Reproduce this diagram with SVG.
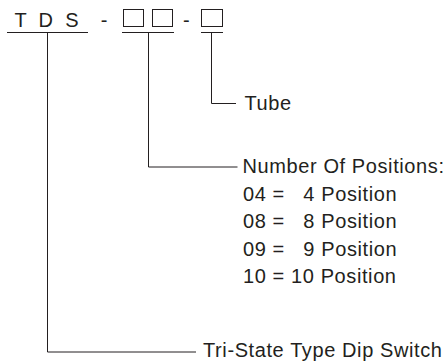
<svg xmlns="http://www.w3.org/2000/svg" width="446" height="363" viewBox="0 0 446 363">
<style>
text{font-family:"Liberation Sans",Arial,Helvetica,sans-serif;font-size:20px;fill:#231f20;letter-spacing:0.6px;white-space:pre}
.code{letter-spacing:3.3px}
.box{fill:none;stroke:#231f20;stroke-width:1}
.ul{stroke:#231f20;stroke-width:1}
.conn{fill:none;stroke:#231f20;stroke-width:1}
</style>
<rect width="446" height="363" fill="#ffffff"/>
<g id="part-code">
<text class="code" x="14.6" y="26.7">T D S</text>
<text x="100.8" y="26.7">-</text>
<rect class="box" x="123.5" y="9.5" width="20" height="17"/>
<rect class="box" x="152.5" y="9.5" width="20" height="17"/>
<text x="183" y="26.7">-</text>
<rect class="box" x="201.5" y="9.5" width="21" height="17"/>
<line class="ul" x1="7" y1="32.5" x2="88" y2="32.5"/>
<line class="ul" x1="122" y1="32.5" x2="174" y2="32.5"/>
<line class="ul" x1="201" y1="32.5" x2="223" y2="32.5"/>
</g>
<g id="connectors">
<path class="conn" d="M211.5 32.5V103.5H236"/>
<path class="conn" d="M148.5 32.5V167H237.5"/>
<path class="conn" d="M47.5 32.5V352H196"/>
</g>
<g id="tube-label">
<text x="244.5" y="109.5">Tube</text>
</g>
<g id="positions-label">
<text x="242.5" y="173.3">Number Of Positions:</text>
<text x="243" y="200.8" xml:space="preserve">04 =   4 Position</text>
<text x="243" y="228.3" xml:space="preserve">08 =   8 Position</text>
<text x="243" y="255.8" xml:space="preserve">09 =   9 Position</text>
<text x="243" y="283.3">10 = 10 Position</text>
</g>
<g id="type-label">
<text x="203" y="357">Tri-State Type Dip Switch</text>
</g>
</svg>
